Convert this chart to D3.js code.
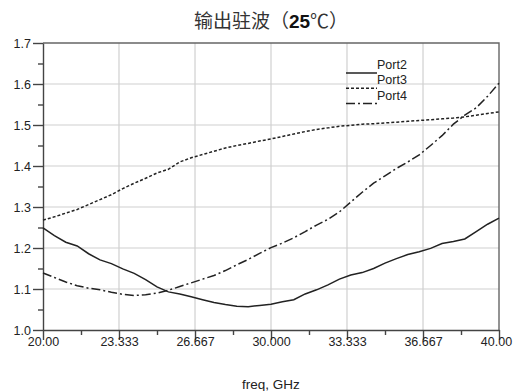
<!DOCTYPE html>
<html>
<head>
<meta charset="utf-8">
<script src="https://cdn.jsdelivr.net/npm/d3@7"></script>
<style>
  body { margin: 0; background: #fff; }
  text { font-family: Arial, "Liberation Sans", sans-serif; fill: #222; }
  .grid line { stroke: #d0d0d0; stroke-width: 1.2; }
  .axis path, .axis line { stroke: #444; stroke-width: 1.4; }
  .frame { fill: none; stroke: #666; stroke-width: 1.4; }
  .curve { fill: none; stroke: #222; stroke-width: 1.5; }
</style>
</head>
<body>
<div id="chart"></div>
<script>
// Data
const freq = [20, 20.5, 21, 21.5, 22, 22.5, 23, 23.5, 24, 24.5, 25, 25.5, 26, 26.5, 27, 27.5,
  28, 28.5, 29, 29.5, 30, 30.5, 31, 31.5, 32, 32.5, 33, 33.5, 34, 34.5, 35, 35.5,
  36, 36.5, 37, 37.5, 38, 38.5, 39, 39.5, 40]

const port2 = [1.249, 1.230, 1.214, 1.205, 1.186, 1.171, 1.162, 1.149, 1.138, 1.123, 1.105, 1.093,
  1.088, 1.081, 1.074, 1.067, 1.062, 1.058, 1.057, 1.060, 1.063, 1.069, 1.074, 1.088, 1.098, 1.110,
  1.124, 1.134, 1.140, 1.150, 1.163, 1.174, 1.184, 1.191, 1.199, 1.211, 1.216, 1.222, 1.240, 1.258, 1.273]

const port3 = [1.268, 1.276, 1.285, 1.294, 1.306, 1.318, 1.330, 1.345, 1.358, 1.370, 1.383, 1.392,
  1.410, 1.420, 1.428, 1.436, 1.444, 1.450, 1.455, 1.461, 1.466, 1.472, 1.478, 1.484, 1.489, 1.493,
  1.497, 1.499, 1.502, 1.503, 1.505, 1.507, 1.509, 1.511, 1.513, 1.515, 1.517, 1.520, 1.524, 1.528, 1.532]

const port4 = [1.139, 1.128, 1.117, 1.108, 1.102, 1.098, 1.092, 1.087, 1.084, 1.086, 1.090, 1.097,
  1.106, 1.115, 1.124, 1.133, 1.145, 1.159, 1.172, 1.187, 1.201, 1.212, 1.225, 1.240, 1.256, 1.270,
  1.288, 1.312, 1.336, 1.358, 1.376, 1.394, 1.410, 1.427, 1.450, 1.474, 1.502, 1.524, 1.542, 1.570, 1.602]

const seriesNames = ['Port2', 'Port3', 'Port4']
const xTicks = [20, 23.333, 26.667, 30, 33.333, 36.667, 40]
const xTickLabels = ['20.00', '23.333', '26.667', '30.000', '33.333', '36.667', '40.00']
const yTicks = [1.0, 1.1, 1.2, 1.3, 1.4, 1.5, 1.6, 1.7]
const titleText = ['输出驻波（', '25', '℃）']
const xTitle = 'freq, GHz'

// Layout
const W = 513, H = 391
const margin = { top: 43, right: 14, bottom: 61, left: 43 }
const width = W - margin.left - margin.right,
      height = H - margin.top - margin.bottom

const svg = d3.select('#chart').append('svg')
  .attr('width', W)
  .attr('height', H)

const g = svg.append('g')
  .attr('transform', 'translate(' + margin.left + ',' + margin.top + ')')

const xScale = d3.scaleLinear().domain([20, 40]).range([0, width])
const yScale = d3.scaleLinear().domain([1.0, 1.7]).range([height, 0])

// Grid
g.append('g').attr('class', 'grid')
  .selectAll('line').data(xTicks.slice(1, -1)).enter().append('line')
  .attr('x1', d => xScale(d)).attr('x2', d => xScale(d))
  .attr('y1', 0).attr('y2', height)

g.append('g').attr('class', 'grid')
  .selectAll('line').data(yTicks.slice(1, -1)).enter().append('line')
  .attr('x1', 0).attr('x2', width)
  .attr('y1', d => yScale(d)).attr('y2', d => yScale(d))

// Frame (top and right)
g.append('path')
  .attr('class', 'frame')
  .attr('d', 'M0,0H' + width + 'V' + height)

// Minor ticks
const xMinor = xTicks.slice(0, -1).map((d, i) => (d + xTicks[i + 1]) / 2)
const yMinor = yTicks.slice(0, -1).map((d, i) => (d + yTicks[i + 1]) / 2)

g.append('g').attr('class', 'axis')
  .attr('transform', 'translate(0,' + height + ')')
  .call(d3.axisBottom(xScale).tickValues(xMinor).tickSize(5).tickFormat(''))
  .select('.domain').remove()

g.append('g').attr('class', 'axis')
  .call(d3.axisLeft(yScale).tickValues(yMinor).tickSize(5).tickFormat(''))
  .select('.domain').remove()

// Major axes
const xAxis = g.append('g').attr('class', 'axis')
  .attr('transform', 'translate(0,' + height + ')')
  .call(d3.axisBottom(xScale).tickValues(xTicks).tickSize(10).tickSizeOuter(0)
    .tickFormat((d, i) => xTickLabels[i]))
xAxis.selectAll('text').attr('font-size', 12.5).attr('dy', '0.2em')
  .attr('x', (d, i) => i === xTicks.length - 1 ? -3 : 0)

const yAxis = g.append('g').attr('class', 'axis')
  .call(d3.axisLeft(yScale).tickValues(yTicks).tickSize(10).tickSizeOuter(0)
    .tickFormat(d3.format('.1f')))
yAxis.selectAll('text').attr('font-size', 12.5).attr('x', -12)

// Curves
const styles = [null, '3,2', '9,3,2,3']
const allSeries = [port2, port3, port4]

const line = d3.line()
  .x((d, i) => xScale(freq[i]))
  .y(d => yScale(d))

allSeries.forEach((s, k) => {
  g.append('path')
    .datum(s)
    .attr('class', 'curve')
    .attr('stroke-dasharray', styles[k])
    .attr('d', line)
})

// Legend
const legend = g.append('g')
  .attr('transform', 'translate(' + (xScale(33.333) - 1) + ',' + 0 + ')')

seriesNames.forEach((name, k) => {
  let y = 30 + k * 15.3
  legend.append('line')
    .attr('x1', 0).attr('x2', 31)
    .attr('y1', y).attr('y2', y)
    .attr('class', 'curve')
    .attr('stroke-dasharray', styles[k])
  legend.append('text')
    .attr('x', 31)
    .attr('y', y - 4)
    .attr('font-size', 12.5)
    .text(name)
})

// Titles
const title = svg.append('text')
  .attr('x', margin.left + width / 2)
  .attr('y', 28)
  .attr('text-anchor', 'middle')
  .attr('font-size', 19)
  .style('font-family', '"Noto Sans CJK SC", sans-serif')
  .style('fill', '#333')
title.append('tspan').text(titleText[0])
title.append('tspan').style('font-family', 'Arial, "Liberation Sans", sans-serif')
  .attr('font-weight', 'bold').style('fill', '#111').text(titleText[1])
title.append('tspan').text(titleText[2])

svg.append('text')
  .attr('x', margin.left + width / 2)
  .attr('y', 389)
  .attr('text-anchor', 'middle')
  .attr('font-size', 13.5)
  .text(xTitle)
</script>
</body>
</html>
